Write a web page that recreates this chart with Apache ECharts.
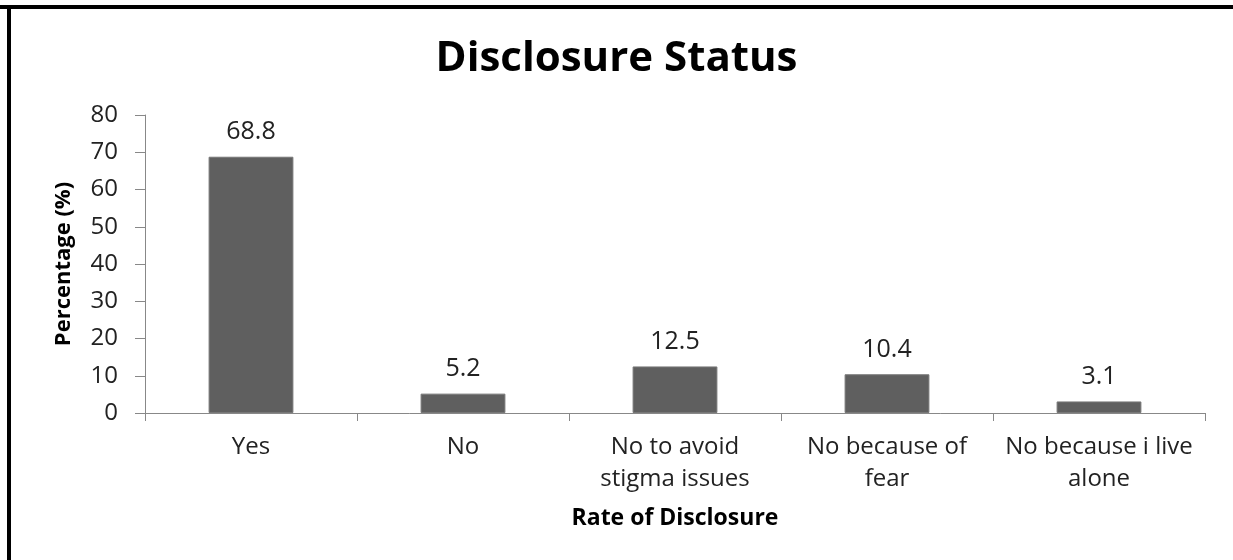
<!DOCTYPE html>
<html>
<head>
<meta charset="utf-8">
<script src="https://cdn.jsdelivr.net/npm/echarts@6/dist/echarts.min.js"></script>
<style>
  html, body { margin: 0; padding: 0; background: #fff; }
  #chart { width: 1233px; height: 560px; }
</style>
</head>
<body>
<div id="chart"></div>
<script>
// chart data
const categories = ['Yes', 'No', 'No to avoid\nstigma issues', 'No because of\nfear', 'No because i live\nalone']
const percentages = [68.8, 5.2, 12.5, 10.4, 3.1]
const yTicks = { min: 0, max: 80, interval: 10 }

const font = '"Open Sans", "Noto Sans", sans-serif'
const chart = echarts.init(document.getElementById('chart'))

chart.setOption({
  animation: false,
  title: {
    text: 'Disclosure Status',
    left: 'center',
    top: 33,
    textStyle: { fontFamily: font, fontSize: 42, fontWeight: 'bold', color: '#000' },
  },
  graphic: [
    { type: 'rect', shape: { x: 0, y: 5, width: 1233, height: 4 }, style: { fill: '#000' } },
    { type: 'rect', shape: { x: 7, y: 5, width: 4, height: 555 }, style: { fill: '#000' } },
  ],
  grid: { left: 145, right: 28, top: 115, bottom: 147 },
  xAxis: {
    type: 'category',
    data: categories,
    name: 'Rate of Disclosure',
    nameLocation: 'middle',
    nameGap: 94,
    nameTextStyle: { fontFamily: font, fontSize: 23, fontWeight: 'bold', color: '#000' },
    axisLine: { lineStyle: { color: '#888', width: 1 } },
    axisTick: { show: true, length: 8, alignWithLabel: false, lineStyle: { color: '#888' } },
    axisLabel: { fontFamily: font, fontSize: 24, color: '#222', margin: 18, lineHeight: 32, interval: 0 },
  },
  yAxis: {
    type: 'value',
    min: yTicks.min,
    max: yTicks.max,
    interval: yTicks.interval,
    name: 'Percentage (%)',
    nameLocation: 'middle',
    nameGap: 70,
    nameTextStyle: { fontFamily: font, fontSize: 22, fontWeight: 'bold', color: '#000' },
    axisLine: { show: true, lineStyle: { color: '#888', width: 1 } },
    axisTick: { show: true, length: 10, lineStyle: { color: '#888' } },
    axisLabel: { fontFamily: font, fontSize: 24, color: '#222', margin: 27 },
    splitLine: { show: false },
  },
  series: [{
    type: 'bar',
    data: percentages,
    barWidth: '40%',
    itemStyle: { color: '#5f5f5f', borderColor: '#777', borderWidth: 1 },
    label: {
      show: true,
      position: 'top',
      distance: 12,
      fontFamily: font,
      fontSize: 25,
      color: '#222',
    },
  }],
})
</script>
</body>
</html>
